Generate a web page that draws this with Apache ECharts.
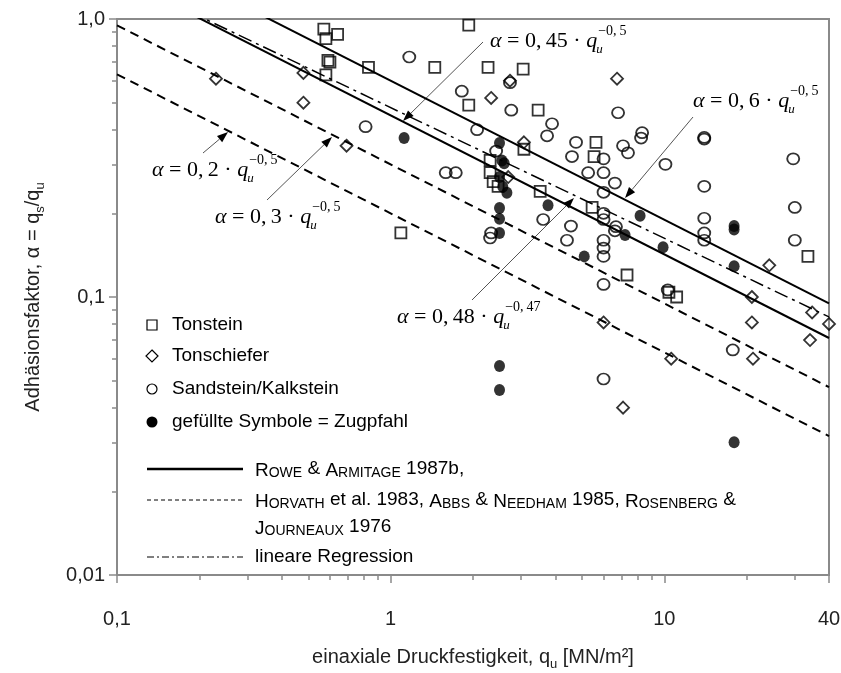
<!DOCTYPE html>
<html><head><meta charset="utf-8">
<script src="https://cdn.jsdelivr.net/npm/echarts@6/dist/echarts.min.js"></script>
<style>html,body{margin:0;padding:0;background:#fff}#c{width:841px;height:673px}</style>
</head><body><div id="c"></div>
<script>
// ---- data: [q_u (MN/m²), alpha] ----
const tonstein = [
  [0.57,0.92],[0.58,0.85],[0.64,0.88],[0.59,0.71],[0.60,0.70],[0.58,0.63],
  [1.93,0.95],[0.83,0.67],[1.45,0.67],[2.27,0.67],[3.05,0.66],[1.93,0.49],
  [3.46,0.47],[3.07,0.34],[5.63,0.36],[5.54,0.32],[2.31,0.31],[2.31,0.28],
  [2.37,0.26],[2.47,0.25],[3.52,0.24],[1.09,0.17],[5.45,0.21],[7.31,0.12],
  [10.4,0.104],[11.1,0.10],[33.5,0.14]
];
const tonschiefer = [
  [0.23,0.61],[0.48,0.64],[0.48,0.50],[0.69,0.35],[2.33,0.52],[2.73,0.60],
  [3.07,0.36],[2.69,0.27],[6.72,0.61],[24.2,0.13],[20.9,0.10],[34.7,0.088],
  [40,0.080],[20.9,0.081],[34.1,0.070],[6.0,0.081],[10.6,0.060],[21.1,0.060],[7.07,0.040]
];
const sandstein = [
  [1.17,0.73],[1.82,0.55],[2.76,0.47],[2.73,0.59],[3.89,0.42],[3.73,0.38],
  [0.81,0.41],[2.07,0.40],[4.76,0.36],[4.60,0.32],[5.27,0.28],[1.59,0.28],
  [1.73,0.28],[2.43,0.335],[3.61,0.19],[2.33,0.17],[2.31,0.163],[4.56,0.18],
  [4.41,0.16],[6.78,0.46],[6.0,0.314],[6.0,0.28],[6.6,0.257],[6.0,0.238],
  [7.07,0.35],[7.37,0.33],[8.3,0.39],[8.23,0.373],[10.1,0.30],[14,0.375],[14,0.37],
  [14,0.25],[6.0,0.20],[6.0,0.19],[6.66,0.179],[6.6,0.173],[6.0,0.16],[6.0,0.15],
  [6.0,0.14],[6.0,0.111],[14,0.192],[14,0.17],[14,0.16],[10.3,0.106],[30,0.21],
  [30,0.16],[17.8,0.0645],[6.0,0.0507],[29.6,0.314]
];
const zugpfahl = [
  [1.12,0.373],[2.5,0.358],[2.6,0.303],[2.55,0.31],[2.5,0.27],[2.57,0.249],[2.66,0.237],
  [2.5,0.209],[2.5,0.191],[2.5,0.17],[3.76,0.214],[5.1,0.14],[2.5,0.0565],[2.5,0.0463],
  [8.16,0.196],[7.19,0.167],[9.9,0.151],[18,0.18],[18,0.175],[18,0.129],[18,0.030]
];
// reference lines (end points at q = 0.1 and q = 40)
const roweLow   = [[0.1,1.423],[40,0.0712]];   // 0,45·q^-0,5
const roweHigh  = [[0.1,1.897],[40,0.0949]];   // 0,6·q^-0,5
const horvLow   = [[0.1,0.6325],[40,0.0316]];  // 0,2·q^-0,5
const horvHigh  = [[0.1,0.9487],[40,0.0474]];  // 0,3·q^-0,5
const regression= [[0.1,1.4166],[40,0.0848]];  // 0,48·q^-0,47
// ticks
const xTickValues = [0.1, 1, 10, 40];
const xTickText   = ['0,1','1','10','40'];
const xMinorTicks = [0.2,0.3,0.4,0.5,0.6,0.7,0.8,0.9,2,3,4,5,6,7,8,9,20,30];
const yTickValues = [0.01, 0.1, 1];
const yTickText   = ['0,01','0,1','1,0'];
const yMinorTicks = [0.02,0.03,0.04,0.05,0.06,0.07,0.08,0.09,0.2,0.3,0.4,0.5,0.6,0.7,0.8,0.9];

const SANS = '"Liberation Sans", Arial, sans-serif';
const SERIF = '"Liberation Serif", "Times New Roman", serif';
const AX = '#8a8a8a';

function lbl(values, texts){ return v => { let best=0, d=1e9; values.forEach((t,i)=>{const dd=Math.abs(Math.log10(t)-Math.log10(v)); if(dd<d){d=dd;best=i;}}); return texts[best]; }; }

const chart = echarts.init(document.getElementById('c'), null, {renderer:'canvas'});

const meas = (() => { const c = document.createElement('canvas').getContext('2d'); return (t,f) => { c.font = f; return c.measureText(t).width; }; })();

function formula(x, y, coef, exp){
  const fI = 'italic 22px ' + SERIF, fN = '22px ' + SERIF;
  const p2 = ' = ' + coef + ' \u00b7 ';
  const w1 = meas('\u03b1', fI), w2 = meas(p2, fN), w3 = meas('q', fI);
  const st = (t,f) => ({text:t, font:f, fill:'#000', verticalAlign:'middle', align:'left'});
  return [
    {type:'text', x:x, y:y, style:st('\u03b1', fI)},
    {type:'text', x:x+w1, y:y, style:st(p2, fN)},
    {type:'text', x:x+w1+w2, y:y, style:st('q', fI)},
    {type:'text', x:x+w1+w2+w3-1, y:y+9, style:st('u', 'italic 13px ' + SERIF)},
    {type:'text', x:x+w1+w2+w3+1, y:y-10, style:st(exp, '14px ' + SERIF)}
  ];
}
function arrow(x1,y1,x2,y2){
  const a = Math.atan2(y2-y1, x2-x1), L = 11, W = 4;
  const bx = x2 - L*Math.cos(a), by = y2 - L*Math.sin(a);
  const nx = -Math.sin(a)*W, ny = Math.cos(a)*W;
  return [
    {type:'line', shape:{x1:x1,y1:y1,x2:bx,y2:by}, style:{stroke:'#555', lineWidth:1}},
    {type:'polygon', shape:{points:[[x2,y2],[bx+nx,by+ny],[bx-nx,by-ny]]}, style:{fill:'#000'}}
  ];
}
function legendText(x,y,t,rich){
  return {type:'text', x:x, y:y, style:{text:t, font:'19px '+SANS, fill:'#000', verticalAlign:'middle', align:'left', rich:rich}};
}
const sc = {b:{fontSize:19, fontFamily:SANS, verticalAlign:'bottom', lineHeight:22}, s:{fontSize:14, fontFamily:SANS, verticalAlign:'bottom', lineHeight:18}};

const graphics = [].concat(
  formula(490, 41, '0,\u200945', '\u22120,\u20095'),
  formula(693, 101, '0,\u20096', '\u22120,\u20095'),
  formula(152, 170, '0,\u20092', '\u22120,\u20095'),
  formula(215, 217, '0,\u20093', '\u22120,\u20095'),
  formula(397, 317, '0,\u200948', '\u22120,\u200947'),
  arrow(483,42,403,121),
  arrow(693,117,625,198),
  arrow(203,153,228,132),
  arrow(267,200,332,137),
  arrow(472,300,574,198),
  [
    {type:'rect', shape:{x:147,y:320,width:10,height:10}, style:{fill:'none', stroke:'#000', lineWidth:1.2}},
    {type:'polygon', shape:{points:[[152,350],[158,356],[152,362],[146,356]]}, style:{fill:'none', stroke:'#000', lineWidth:1.2}},
    {type:'circle', shape:{cx:152,cy:389,r:5}, style:{fill:'none', stroke:'#000', lineWidth:1.2}},
    {type:'circle', shape:{cx:152,cy:422,r:5.5}, style:{fill:'#000'}},
    legendText(172,325,'Tonstein'),
    legendText(172,356,'Tonschiefer'),
    legendText(172,389,'Sandstein/Kalkstein'),
    legendText(172,422,'gef\u00fcllte Symbole = Zugpfahl'),
    {type:'line', shape:{x1:147,y1:469,x2:243,y2:469}, style:{stroke:'#000', lineWidth:2.5}},
    {type:'line', shape:{x1:147,y1:500,x2:243,y2:500}, style:{stroke:'#000', lineWidth:1, lineDash:[4,3]}},
    {type:'line', shape:{x1:147,y1:557,x2:243,y2:557}, style:{stroke:'#000', lineWidth:1, lineDash:[7,3,2,3]}},
    legendText(255,469,'{b|R}{s|OWE} & {b|A}{s|RMITAGE} 1987b,', sc),
    legendText(255,500,'{b|H}{s|ORVATH} et al. 1983, {b|A}{s|BBS} & {b|N}{s|EEDHAM} 1985, {b|R}{s|OSENBERG} &', sc),
    legendText(255,527,'{b|J}{s|OURNEAUX} 1976', sc),
    legendText(255,557,'lineare Regression')
  ]
);

function lineSeries(name, data, type, width){
  return {name:name, type:'line', data:data, showSymbol:false, symbol:'none', silent:true, z:1,
    lineStyle:{color:'#000', width:width, type:type}};
}
const scatterBase = {type:'scatter', z:3, silent:true};

chart.setOption({
  animation:false,
  backgroundColor:'#fff',
  grid:{left:117, top:19, width:712, height:556, show:true, borderColor:AX, borderWidth:2, outerBoundsMode:'none', containLabel:false},
  xAxis:[
    {type:'log', logBase:10, min:0.1, max:40,
     name:'einaxiale Druckfestigkeit, q{s|u} [MN/m\u00b2]', nameLocation:'middle', nameGap:68,
     nameTextStyle:{fontSize:20, fontFamily:SANS, color:'#222', lineHeight:28, rich:{s:{fontSize:13, fontFamily:SANS, color:'#222', verticalAlign:'bottom', lineHeight:14}}},
     axisLine:{show:true, lineStyle:{color:AX, width:2}},
     axisTick:{show:true, customValues:xTickValues, length:8, lineStyle:{color:AX, width:1.5}},
     axisLabel:{customValues:xTickValues, formatter:lbl(xTickValues, xTickText), fontSize:20, fontFamily:SANS, color:'#222', margin:34, showMaxLabel:true, showMinLabel:true},
     splitLine:{show:false}, minorTick:{show:false}},
    {type:'log', logBase:10, min:0.1, max:40, position:'bottom',
     axisLine:{show:false},
     axisTick:{show:true, customValues:xMinorTicks, length:5, lineStyle:{color:AX, width:1.5}},
     axisLabel:{show:false}, splitLine:{show:false}}
  ],
  yAxis:[
    {type:'log', logBase:10, min:0.01, max:1,
     name:'Adh\u00e4sionsfaktor, \u03b1 = q{s|s}/q{s|u}', nameLocation:'middle', nameRotate:90, nameGap:70,
     nameTextStyle:{fontSize:20, fontFamily:SANS, color:'#222', lineHeight:28, rich:{s:{fontSize:13, fontFamily:SANS, color:'#222', verticalAlign:'bottom', lineHeight:14}}},
     axisLine:{show:true, lineStyle:{color:AX, width:2}},
     axisTick:{show:true, customValues:yTickValues, length:8, lineStyle:{color:AX, width:1.5}},
     axisLabel:{customValues:yTickValues, formatter:lbl(yTickValues, yTickText), fontSize:20, fontFamily:SANS, color:'#222', margin:12},
     splitLine:{show:false}},
    {type:'log', logBase:10, min:0.01, max:1, position:'left',
     axisLine:{show:false},
     axisTick:{show:true, customValues:yMinorTicks, length:5, lineStyle:{color:AX, width:1.5}},
     axisLabel:{show:false}, splitLine:{show:false}}
  ],
  series:[
    lineSeries('Rowe 0,45', roweLow, 'solid', 2),
    lineSeries('Rowe 0,6', roweHigh, 'solid', 2),
    lineSeries('Horvath 0,2', horvLow, [9,6], 2),
    lineSeries('Horvath 0,3', horvHigh, [9,6], 2),
    lineSeries('lineare Regression', regression, [14,5,3,5], 1.5),
    Object.assign({name:'Tonstein', data:tonstein, symbol:'rect', symbolSize:11,
      itemStyle:{color:'rgba(0,0,0,0)', borderColor:'#000', borderWidth:1.8}}, scatterBase),
    Object.assign({name:'Tonschiefer', data:tonschiefer, symbol:'diamond', symbolSize:[12,12],
      itemStyle:{color:'rgba(0,0,0,0)', borderColor:'#000', borderWidth:1.8}}, scatterBase),
    Object.assign({name:'Sandstein/Kalkstein', data:sandstein, symbol:'circle', symbolSize:[12,11],
      itemStyle:{color:'rgba(0,0,0,0)', borderColor:'#000', borderWidth:1.8}}, scatterBase),
    Object.assign({name:'Zugpfahl', data:zugpfahl, symbol:'circle', symbolSize:[11,12],
      itemStyle:{color:'#000', borderColor:'#000', borderWidth:0}}, scatterBase)
  ],
  graphic: graphics
});
</script>
</body></html>
